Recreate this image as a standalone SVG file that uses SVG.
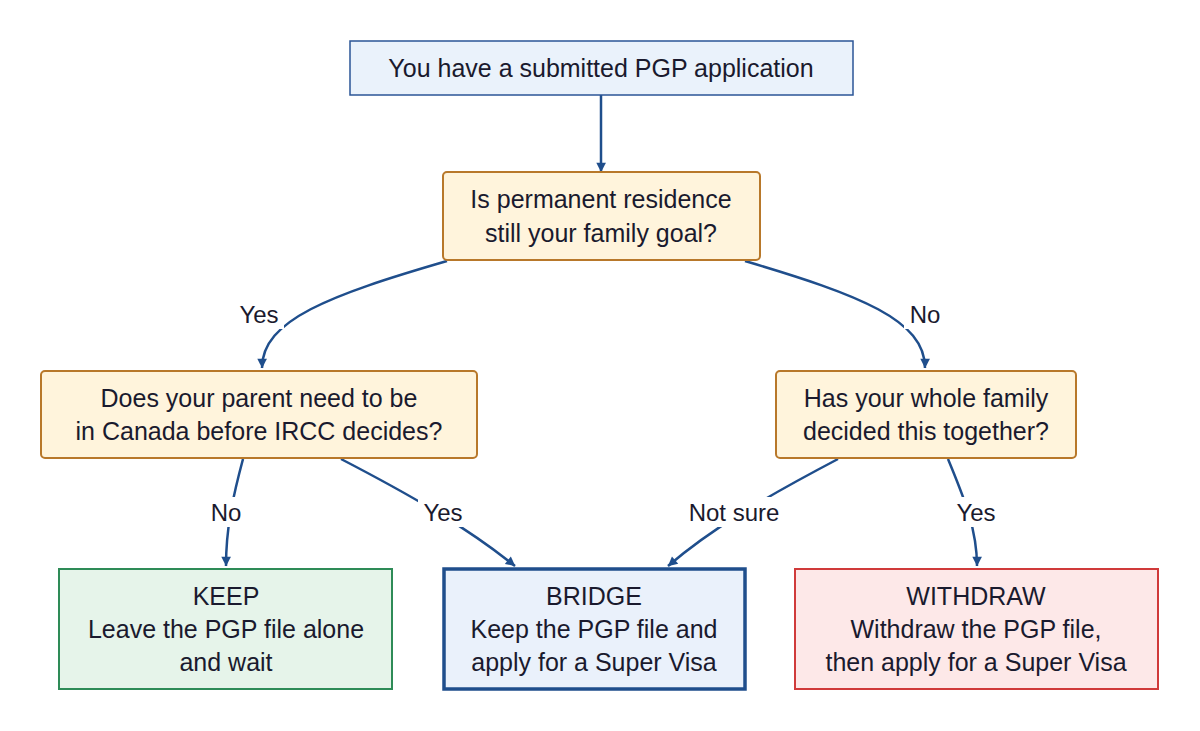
<svg xmlns="http://www.w3.org/2000/svg" width="1200" height="731" viewBox="0 0 1200 731">
<style>
text{font-family:"Liberation Sans",Arial,sans-serif;font-size:25px;fill:#1a1a2e;text-anchor:middle}
.lbl{font-size:24px}
.dec{fill:#fff4dc;stroke:#b8782a;stroke-width:2}
.edge{fill:none;stroke:#1f4e8c;stroke-width:2.5;marker-end:url(#ah)}
.bg{fill:#ffffff}
</style>
<defs><marker id="ah" viewBox="0 0 10 10" refX="9" refY="5" markerWidth="6" markerHeight="6" orient="auto" markerUnits="userSpaceOnUse" style="overflow:visible"><path d="M0,0 L10,5 L0,10 z" fill="#1f4e8c" transform="scale(1.6) translate(-4,-2)"/></marker></defs>
<rect width="1200" height="731" fill="#ffffff"/>
<g id="connectors">
<path class="edge" d="M601,95 L601,172"/>
<path class="edge" d="M447,261 C330,295 262,320 262,368"/>
<path class="edge" d="M745,261 C860,295 925,320 925,368"/>
<path class="edge" d="M243,459 C232,500 226,530 226,566"/>
<path class="edge" d="M341,459 C420,500 470,530 515,566"/>
<path class="edge" d="M838,459 C760,500 710,530 668,566"/>
<path class="edge" d="M948,459 C965,500 977,530 977,566"/>
<rect class="bg" x="234" y="299" width="50" height="30"/><text class="lbl" x="259" y="323">Yes</text>
<rect class="bg" x="904" y="299" width="42" height="30"/><text class="lbl" x="925" y="323">No</text>
<rect class="bg" x="205" y="497" width="42" height="30"/><text class="lbl" x="226" y="521">No</text>
<rect class="bg" x="418" y="497" width="50" height="30"/><text class="lbl" x="443" y="521">Yes</text>
<rect class="bg" x="680" y="497" width="108" height="30"/><text class="lbl" x="734" y="521">Not sure</text>
<rect class="bg" x="951" y="497" width="50" height="30"/><text class="lbl" x="976" y="521">Yes</text>
</g>
<g id="start"><rect x="350" y="41" width="503" height="54" fill="#eaf2fb" stroke="#2b5597" stroke-width="1.5"/><text x="601" y="77">You have a submitted PGP application</text></g>
<g id="q1"><rect class="dec" x="443" y="172" width="317" height="88" rx="4"/><text x="601" y="208">Is permanent residence</text><text x="601" y="242">still your family goal?</text></g>
<g id="q2"><rect class="dec" x="41" y="371" width="436" height="87" rx="4"/><text x="259" y="407">Does your parent need to be</text><text x="259" y="440">in Canada before IRCC decides?</text></g>
<g id="q3"><rect class="dec" x="776" y="371" width="300" height="87" rx="4"/><text x="926" y="407">Has your whole family</text><text x="926" y="440">decided this together?</text></g>
<g id="keep"><rect x="59" y="569" width="333" height="120" fill="#e6f4ea" stroke="#2e8b57" stroke-width="2"/><text x="226" y="605">KEEP</text><text x="226" y="638">Leave the PGP file alone</text><text x="226" y="671">and wait</text></g>
<g id="bridge"><rect x="444" y="569" width="301" height="120" fill="#eaf1fb" stroke="#1f4e8c" stroke-width="3.5"/><text x="594" y="605">BRIDGE</text><text x="594" y="638">Keep the PGP file and</text><text x="594" y="671">apply for a Super Visa</text></g>
<g id="withdraw"><rect x="795" y="569" width="363" height="120" fill="#fde8e8" stroke="#d03a3a" stroke-width="2"/><text x="976" y="605">WITHDRAW</text><text x="976" y="638">Withdraw the PGP file,</text><text x="976" y="671">then apply for a Super Visa</text></g>
</svg>
